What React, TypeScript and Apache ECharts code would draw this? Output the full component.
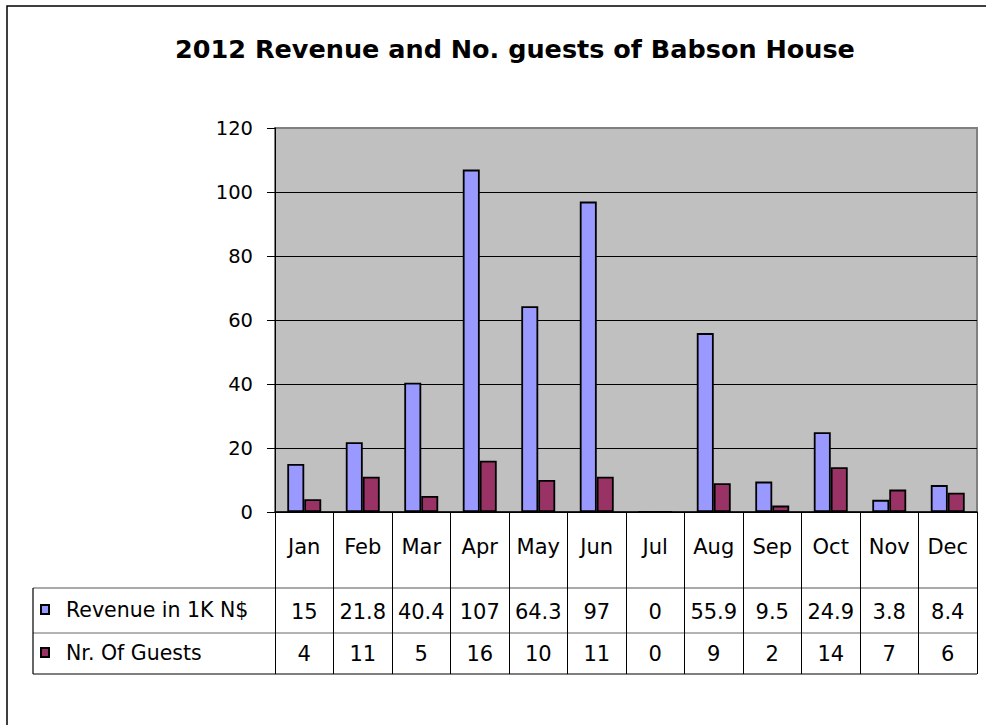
import React, { useEffect, useRef } from "react";
import * as echarts from "echarts";

const months = ["Jan", "Feb", "Mar", "Apr", "May", "Jun", "Jul", "Aug", "Sep", "Oct", "Nov", "Dec"];
const revenue = [15, 21.8, 40.4, 107, 64.3, 97, 0, 55.9, 9.5, 24.9, 3.8, 8.4];
const guests = [4, 11, 5, 16, 10, 11, 0, 9, 2, 14, 7, 6];
const seriesNames = ["Revenue in 1K N$", "Nr. Of Guests"];
const titleText = "2012 Revenue and No. guests of Babson House";
const yMin = 0;
const yMax = 120;
const yInterval = 20;

const FONT = "DejaVu Sans";

export default function App() {
  const ref = useRef<HTMLDivElement>(null);
  useEffect(() => {
    if (!ref.current) return;
    const chart = echarts.init(ref.current, null, { renderer: "svg" });
    const tableAxis = (data: string[], margin: number) => ({
      type: "category",
      gridIndex: 0,
      position: "bottom",
      data,
      axisLine: { show: false },
      axisTick: { show: false },
      splitLine: { show: false },
      axisLabel: {
        interval: 0,
        margin,
        fontFamily: FONT,
        fontSize: 21,
        lineHeight: 21,
        color: "#000",
      },
    });
    chart.setOption({
      animation: false,
      backgroundColor: "#fff",
      title: {
        text: titleText,
        left: 510,
        top: 31,
        textAlign: "center",
        textStyle: {
          fontFamily: FONT,
          fontWeight: "bold",
          fontSize: 25.5,
          lineHeight: 26,
          color: "#000",
        },
      },
      legend: [
        {
          data: [seriesNames[0]],
          left: 40,
          top: 599,
          padding: 0,
          itemWidth: 8,
          itemHeight: 9,
          icon: "rect",
          selectedMode: false,
          textStyle: { fontFamily: FONT, fontSize: 20.5, lineHeight: 21, color: "#000", padding: [0, 0, 0, 12] },
        },
        {
          data: [seriesNames[1]],
          left: 40,
          top: 642,
          padding: 0,
          itemWidth: 8,
          itemHeight: 9,
          icon: "rect",
          selectedMode: false,
          textStyle: { fontFamily: FONT, fontSize: 20.5, lineHeight: 21, color: "#000", padding: [0, 0, 0, 12] },
        },
      ],
      grid: {
        left: 275,
        top: 128,
        width: 702,
        height: 384,
        show: true,
        backgroundColor: "#C0C0C0",
        borderColor: "#808080",
        borderWidth: 2,
        containLabel: false,
      },
      xAxis: [
        {
          type: "category",
          data: months,
          position: "bottom",
          axisLine: { show: true, lineStyle: { color: "#000", width: 1.5 } },
          axisTick: { show: true, interval: 0, alignWithLabel: false, length: 162, lineStyle: { color: "#000", width: 1 } },
          splitLine: { show: false },
          axisLabel: {
            interval: 0,
            margin: 24,
            fontFamily: FONT,
            fontSize: 21,
            lineHeight: 21,
            color: "#000",
          },
        },
        tableAxis(revenue.map((v) => String(v)), 89),
        tableAxis(guests.map((v) => String(v)), 131),
      ],
      yAxis: {
        type: "value",
        min: yMin,
        max: yMax,
        interval: yInterval,
        axisLine: { show: true, lineStyle: { color: "#000", width: 1 } },
        axisTick: { show: true, length: 8, lineStyle: { color: "#000" } },
        splitLine: { show: true, showMaxLine: false, lineStyle: { color: "#000", width: 1 } },
        axisLabel: { margin: 22, fontFamily: FONT, fontSize: 19.5, color: "#000" },
      },
      series: [
        {
          name: seriesNames[0],
          type: "bar",
          xAxisIndex: 0,
          data: revenue,
          barGap: "0%",
          barCategoryGap: "42%",
          itemStyle: { color: "#9999FF", borderColor: "#000", borderWidth: 1.8 },
        },
        {
          name: seriesNames[1],
          type: "bar",
          xAxisIndex: 0,
          data: guests,
          barGap: "0%",
          barCategoryGap: "42%",
          itemStyle: { color: "#993366", borderColor: "#000", borderWidth: 1.8 },
        },
      ],
      graphic: [
        {
          type: "rect",
          silent: true,
          shape: { x: 7, y: 6, width: 1000, height: 740 },
          style: { fill: "none", stroke: "#000", lineWidth: 1.5 },
        },
        { type: "line", silent: true, shape: { x1: 33, y1: 588, x2: 977, y2: 588 }, style: { stroke: "#555", lineWidth: 1 } },
        { type: "line", silent: true, shape: { x1: 33, y1: 633, x2: 977, y2: 633 }, style: { stroke: "#666", lineWidth: 1 } },
        { type: "line", silent: true, shape: { x1: 33, y1: 674, x2: 977, y2: 674 }, style: { stroke: "#000", lineWidth: 1.2 } },
        { type: "line", silent: true, shape: { x1: 33, y1: 588, x2: 33, y2: 674 }, style: { stroke: "#000", lineWidth: 1.2 } },
      ],
    });
    return () => chart.dispose();
  }, []);
  return <div ref={ref} style={{ position: "absolute", left: 0, top: 0, width: 986, height: 725 }} />;
}
